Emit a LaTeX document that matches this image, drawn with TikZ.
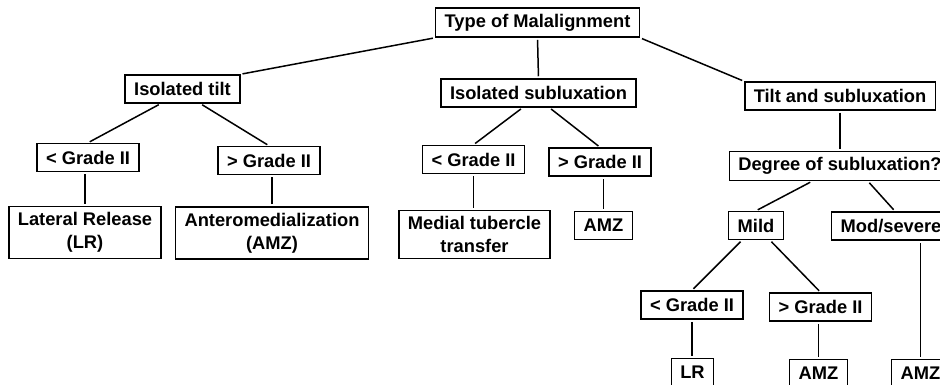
\documentclass[tikz,border=0pt]{standalone}
\usepackage{fontspec}
\setmainfont{Liberation Sans}

\begin{document}
\begin{tikzpicture}[x=1pt, y=-1pt,
    box/.style={draw, line width=1.5pt, inner xsep=9pt, inner ysep=6pt, minimum height=28pt,
      align=center, font=\bfseries\fontsize{18.3}{23}\selectfont},
    link/.style={line width=1.5pt, shorten <=2pt, shorten >=2pt}]
    \useasboundingbox (0,0) rectangle (940,385);
    \clip (0,0) rectangle (940,385);
    \node[box] at (537.5,22.5) (type) {Type of Malalignment};
    \node[box] at (182.5,89) (itilt) {Isolated tilt};
    \node[box] at (538.5,93) (isub) {Isolated subluxation};
    \node[box] at (840,96) (tsub) {Tilt and subluxation};
    \node[box] at (88,157.5) (ltL) {< Grade II};
    \node[box] at (269,160.5) (gtL) {> Grade II};
    \node[box] at (473.5,159.5) (ltM) {< Grade II};
    \node[box] at (600,162) (gtM) {> Grade II};
    \node[box] at (840,166) (deg) {Degree of subluxation?};
    \node[box] at (85,232.5) (lrL) {Lateral Release\\(LR)};
    \node[box] at (272,233) (amzL) {Anteromedialization\\(AMZ)};
    \node[box] at (474.5,234.5) (mtt) {Medial tubercle\\transfer};
    \node[box] at (603.5,225.5) (amzM) {AMZ};
    \node[box] at (756,225.5) (mild) {Mild};
    \node[box] at (891,226) (mod) {Mod/severe};
    \node[box] at (692,305) (ltB) {< Grade II};
    \node[box] at (820.5,307) (gtB) {> Grade II};
    \node[box] at (692.5,372.5) (lrB) {LR};
    \node[box] at (818.5,373.5) (amzB) {AMZ};
    \node[box] at (920.5,373.5) (amzR) {AMZ};
    \draw[link] (type.south west) -- (itilt.north east);
    \draw[link] (type.south) -- (isub.north);
    \draw[link] (type.south east) -- (tsub.north west);
    \draw[link] ([xshift=-22pt]itilt.south) -- (ltL.north);
    \draw[link] ([xshift=18pt]itilt.south) -- (gtL.north);
    \draw[link] ([xshift=-16pt]isub.south) -- (ltM.north);
    \draw[link] ([xshift=11pt]isub.south) -- (gtM.north);
    \draw[link] (tsub.south) -- (deg.north);
    \draw[link] ([xshift=-28pt]deg.south) -- (mild.north);
    \draw[link] ([xshift=28pt]deg.south) -- ([xshift=4pt]mod.north);
    \draw[link] ([xshift=-14pt]mild.south) -- (ltB.north);
    \draw[link] ([xshift=14pt]mild.south) -- (gtB.north);
    \draw[link] (lrL.north) -- (lrL.north |- ltL.south);
    \draw[link] (amzL.north) -- (amzL.north |- gtL.south);
    \draw[link] (ltM.south) -- (ltM.south |- mtt.north);
    \draw[link] (amzM.north) -- (amzM.north |- gtM.south);
    \draw[link] (ltB.south) -- (ltB.south |- lrB.north);
    \draw[link] (amzB.north) -- (amzB.north |- gtB.south);
    \draw[link] (amzR.north) -- (amzR.north |- mod.south);
  \end{tikzpicture}
\end{document}
